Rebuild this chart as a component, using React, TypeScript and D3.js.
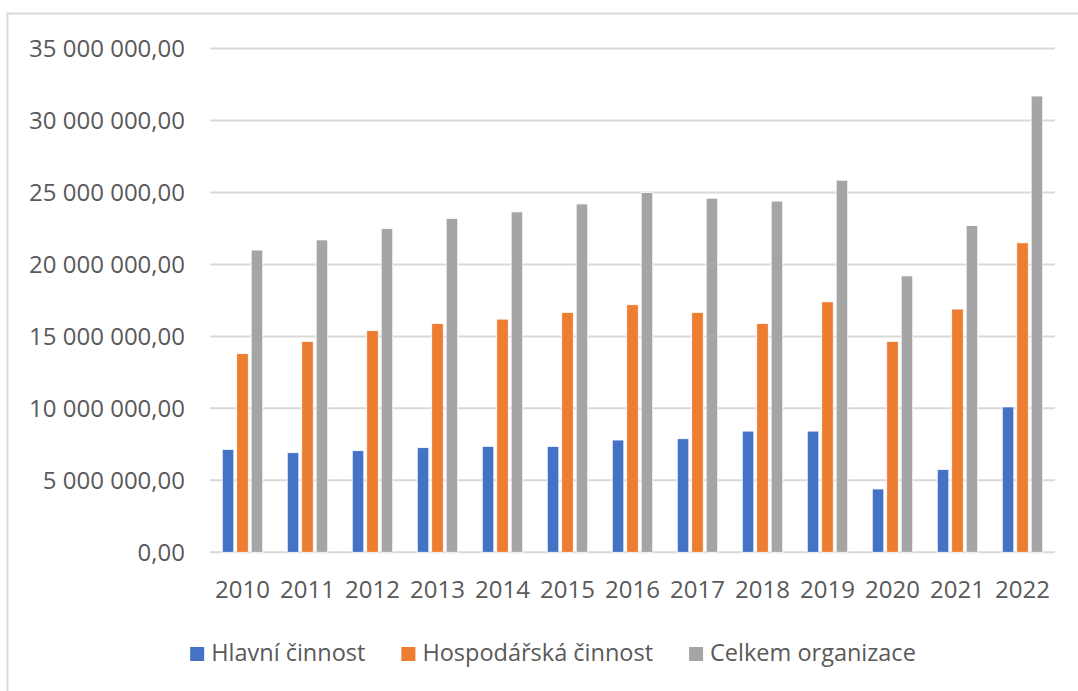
import React, { useEffect, useRef } from 'react';
import * as d3 from 'd3';

// years on the x axis
const years = ['2010', '2011', '2012', '2013', '2014', '2015', '2016', '2017', '2018', '2019', '2020', '2021', '2022'];

// series values (CZK)
const hlavni = [7150000, 6920000, 7060000, 7270000, 7360000, 7360000, 7800000, 7890000, 8420000, 8420000, 4400000, 5760000, 10100000];
const hospodarska = [13800000, 14650000, 15400000, 15900000, 16200000, 16670000, 17200000, 16670000, 15900000, 17400000, 14650000, 16900000, 21500000];
const celkem = [21000000, 21700000, 22500000, 23200000, 23650000, 24200000, 25000000, 24600000, 24400000, 25850000, 19200000, 22700000, 31700000];

const seriesNames = ['Hlavní činnost', 'Hospodářská činnost', 'Celkem organizace'];
const seriesColors = ['#4472C4', '#ED7D31', '#A5A5A5'];
const yTicks = [0, 5000000, 10000000, 15000000, 20000000, 25000000, 30000000, 35000000];

const W = 1078;
const H = 691;
const FONT = '"Open Sans", "Noto Sans", sans-serif';

// "35 000 000,00" style
function fmt(v: number) {
  const s = Math.round(v).toString().replace(/\B(?=(\d{3})+(?!\d))/g, ' ');
  return s + ',00';
}

export default function App() {
  const ref = useRef<SVGSVGElement>(null);

  useEffect(() => {
    const svg = d3.select(ref.current);
    svg.selectAll('*').remove();

    const left = 210, right = 1055, top = 48.5, bottom = 552.3;
    const allSeries = [hlavni, hospodarska, celkem];

    const x = d3.scaleBand().domain(years).range([left, right]).padding(0);
    const groupW = 40.5;
    const x1 = d3.scaleBand<number>().domain([0, 1, 2]).range([0, groupW]).paddingInner(0.2);
    const y = d3.scaleLinear().domain([0, 35000000]).range([bottom, top]);

    // chart area border
    svg.append('rect')
      .attr('x', 7.5).attr('y', 13.5)
      .attr('width', 1100).attr('height', 700)
      .attr('fill', 'white')
      .attr('stroke', '#d9d9d9').attr('stroke-width', 2);

    // gridlines
    svg.append('g').selectAll('line')
      .data(yTicks)
      .enter().append('line')
      .attr('x1', left).attr('x2', right)
      .attr('y1', d => y(d)).attr('y2', d => y(d))
      .attr('stroke', '#d9d9d9').attr('stroke-width', 2);

    // y labels
    svg.append('g').selectAll('text')
      .data(yTicks)
      .enter().append('text')
      .attr('x', 185).attr('y', d => y(d))
      .attr('dy', '0.35em')
      .attr('text-anchor', 'end')
      .attr('font-family', FONT).attr('font-size', 24)
      .attr('fill', '#595959')
      .text(d => fmt(d));

    // x labels
    svg.append('g').selectAll('text')
      .data(years)
      .enter().append('text')
      .attr('x', d => (x(d) as number) + x.bandwidth() / 2)
      .attr('y', 598)
      .attr('text-anchor', 'middle')
      .attr('font-family', FONT).attr('font-size', 24)
      .attr('fill', '#595959')
      .text(d => d);

    // bars
    const off = (x.bandwidth() - groupW) / 2;
    allSeries.forEach((vals, si) => {
      svg.append('g').selectAll('rect')
        .data(vals)
        .enter().append('rect')
        .attr('x', (d, i) => (x(years[i]) as number) + off + (x1(si) as number))
        .attr('y', d => y(d))
        .attr('width', x1.bandwidth())
        .attr('height', d => y(0) - y(d))
        .attr('fill', seriesColors[si])
        .attr('stroke', 'white').attr('stroke-width', 0.8);
    });

    // legend, centred in chart area
    const lg = svg.append('g');
    const gap = 36;
    let cx = 0;
    seriesNames.forEach((name, i) => {
      const item = lg.append('g').attr('transform', `translate(${cx},0)`);
      item.append('rect')
        .attr('x', 0).attr('y', 647)
        .attr('width', 14).attr('height', 14)
        .attr('fill', seriesColors[i]);
      const t = item.append('text')
        .attr('x', 21).attr('y', 661)
        .attr('font-family', FONT).attr('font-size', 23.5)
        .attr('fill', '#595959')
        .text(name);
      const tw = (t.node() as SVGTextElement).getComputedTextLength();
      cx += 21 + tw + gap;
    });
    const total = cx - gap;
    lg.attr('transform', `translate(${553 - total / 2},0)`);
  }, []);

  return (
    <svg ref={ref} width={W} height={H}
      style={{ position: 'absolute', left: 0, top: 0, background: 'white' }} />
  );
}
